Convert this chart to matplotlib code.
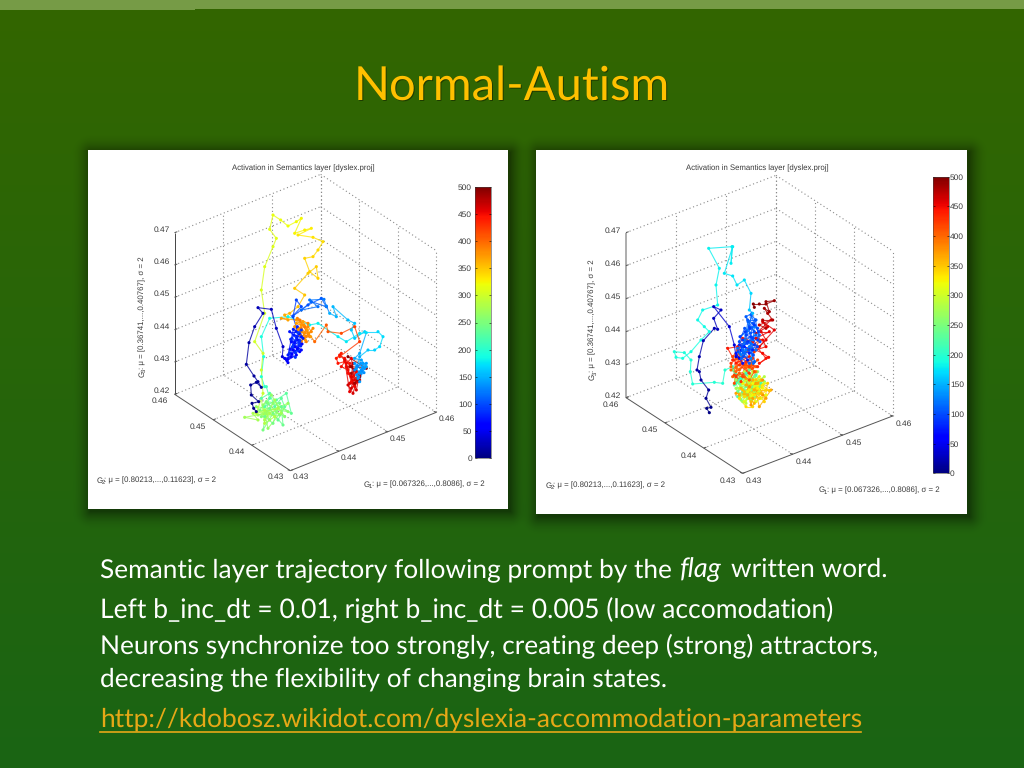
import numpy as np
import matplotlib
matplotlib.use("Agg")
import matplotlib.pyplot as plt
from matplotlib.cm import ScalarMappable
from matplotlib.collections import LineCollection
from matplotlib.colors import Normalize

plt.rcParams["font.family"] = ["Liberation Sans", "DejaVu Sans"]
plt.rcParams["text.hinting"] = "no_hinting"

# values, positions of the trajectories are in zoomed panel pixels (3x)
g1_ticks = [0.43, 0.44, 0.45, 0.46]
g2_ticks = [0.43, 0.44, 0.45, 0.46]
g3_ticks = [0.42, 0.43, 0.44, 0.45, 0.46, 0.47]
cbar_ticks = [0, 50, 100, 150, 200, 250, 300, 350, 400, 450, 500]

left_x = [505, 497, 492, 512, 490, 488, 505, 520, 510, 498, 475, 483, 500, 525, 510, 550, 565, 585, 583,
          600, 590, 610, 597, 625, 615, 635, 620, 640, 610, 630, 605, 625, 640, 618, 645, 628, 612, 635, 622, 605, 630, 640,
          598, 612, 628, 642, 606, 620, 634, 616, 600, 626, 638, 608, 622, 636, 614, 630,
          615, 625, 640, 615, 660, 700, 715, 670, 640, 690, 665, 708, 715,
          725, 745, 735, 780, 800, 790, 800, 830, 870, 885, 875, 860, 840, 815,
          808, 822, 812, 828, 800, 818, 835, 806, 825, 815,
          800, 830, 815, 805, 825, 810, 835, 820, 800, 815,
          835, 815, 775, 750, 690, 665, 600, 545, 520, 527, 520, 530,
          535, 545, 530, 565, 595, 610, 580, 585, 555, 525, 540, 575, 520, 555, 600, 505, 545, 535, 470, 510, 495, 530, 560, 530,
          520, 545, 560, 580, 590, 570, 545, 530, 555, 575, 535, 515, 565, 590, 550, 525, 540, 600, 510, 580, 560, 530, 545, 570,
          505, 525, 520, 525, 500, 530, 520, 530, 555, 565, 545, 555,
          578, 600, 625, 640, 620, 650, 670, 630, 675, 705, 690, 675, 650, 665, 690, 685, 660, 620, 650,
          630, 605, 590, 600, 580, 625, 640, 630, 650, 660, 670, 645, 655, 640, 665, 635, 650,
          625, 645, 658, 668, 636, 652, 620, 642, 662, 648, 632, 655, 675, 640, 660, 628,
          680, 715, 720, 760, 800, 815, 755,
          760, 745, 750, 770, 760, 780, 775, 790, 800, 785, 810, 795, 780, 815, 790, 800,
          755, 770, 785, 780, 795, 805, 790, 775, 800, 815, 785, 770, 795, 810, 805, 790,
          795, 785, 800, 790, 810, 800, 815, 790, 835, 780]
left_y = [785, 775, 760, 755, 735, 705, 697, 712, 695, 678, 643, 578, 530, 490, 473, 478, 535, 590, 620,
          638, 625, 620, 632, 615, 600, 605, 590, 600, 575, 570, 545, 545, 560, 555, 565, 530, 565, 580, 622, 610, 600, 540,
          628, 612, 596, 582, 598, 578, 552, 538, 615, 560, 588, 568, 608, 572, 590, 548,
          500, 450, 470, 498, 465, 445, 470, 455, 480, 470, 450, 448, 468,
          490, 500, 470, 510, 520, 540, 565, 545, 545, 560, 590, 600, 600, 620,
          648, 662, 680, 668, 660, 640, 640, 675, 650, 695,
          640, 655, 670, 655, 640, 685, 650, 630, 625, 610,
          548, 550, 575, 560, 520, 525, 500, 505, 560, 620, 680, 710,
          710, 745, 770, 750, 730, 790, 770, 825, 790, 840, 760, 795, 800, 760, 785, 770, 810, 790, 802, 810, 790, 780, 800, 820,
          745, 730, 770, 745, 770, 810, 775, 800, 820, 760, 755, 780, 785, 800, 735, 765, 835, 760, 795, 790, 750, 810, 790, 775,
          790, 730, 660, 610, 575, 490, 420, 350, 290, 265, 238, 195,
          210, 228, 215, 205, 250, 240, 235, 255, 262, 275, 300, 320, 325, 365, 385, 350, 370, 415, 435,
          470, 490, 495, 510, 505, 510, 525, 540, 550, 530, 545, 565, 575, 535, 560, 510, 530,
          520, 515, 540, 560, 555, 570, 530, 545, 550, 525, 535, 560, 535, 575, 520, 505,
          575, 525, 545, 550, 530, 575, 620,
          610, 625, 640, 635, 650, 660, 640, 625, 690, 700, 680, 730, 705, 690, 715, 660,
          615, 625, 640, 670, 680, 665, 695, 650, 710, 675, 725, 630, 700, 695, 720, 680,
          640, 650, 660, 670, 690, 700, 680, 650, 655, 620]
left_t = [2, 3, 4, 5, 6, 8, 9, 11, 12, 13, 15, 18, 20, 22, 24, 26, 29, 32, 36,
          50, 52, 54, 56, 58, 60, 62, 64, 66, 68, 70, 72, 74, 76, 78, 80, 82, 84, 85, 86, 87, 88, 89,
          60, 62, 64, 66, 68, 70, 72, 74, 76, 78, 80, 82, 84, 86, 88, 90,
          92, 95, 98, 100, 103, 106, 109, 112, 115, 118, 120, 122, 125,
          150, 152, 154, 156, 158, 160, 162, 165, 168, 170, 168, 166, 160, 150,
          130, 131, 132, 133, 134, 135, 136, 137, 138, 139,
          135, 135, 138, 138, 140, 140, 142, 142, 145, 148,
          172, 174, 176, 178, 180, 182, 185, 188, 190, 192, 194, 198,
          215, 220, 225, 228, 230, 235, 238, 240, 245, 248, 250, 252, 255, 258, 260, 265, 268, 270, 272, 275, 278, 280, 282, 285,
          225, 227, 230, 232, 235, 238, 240, 242, 245, 248, 250, 252, 255, 257, 260, 262, 265, 267, 270, 272, 275, 277, 278, 279,
          292, 296, 298, 300, 302, 304, 306, 308, 310, 312, 314, 315,
          318, 320, 322, 324, 326, 328, 330, 332, 334, 336, 338, 340, 342, 344, 345, 346, 347, 348, 350,
          355, 360, 365, 368, 370, 372, 374, 376, 378, 380, 382, 384, 385, 386, 387, 388, 390,
          370, 371, 372, 373, 374, 375, 376, 377, 378, 379, 380, 381, 382, 383, 384, 385,
          400, 405, 410, 415, 420, 425, 430,
          440, 442, 444, 446, 448, 450, 452, 454, 456, 458, 460, 462, 463, 464, 465, 468,
          445, 446, 447, 448, 449, 450, 451, 452, 453, 454, 455, 456, 457, 458, 459, 460,
          470, 474, 478, 480, 484, 486, 488, 490, 492, 495]

right_x = [520, 512, 525, 510, 518, 495, 490, 483, 490, 502, 535, 545, 533, 555, 533, 580, 595, 600, 610,
           600, 620, 635, 615, 640, 625, 650, 610, 635, 655, 620, 645, 665, 630, 655, 640, 665, 650, 635, 660, 645, 670, 625, 605, 650, 640, 660, 630, 615, 645, 655,
           612, 628, 642, 655, 668, 618, 634, 650, 664, 606, 622, 638, 652, 610, 626, 644, 658, 672, 630, 648, 616, 640, 656, 636, 620, 652, 644, 660, 628, 612,
           650, 640, 645, 625, 603, 590, 565, 590, 585, 588, 518, 550, 540, 545, 500, 485, 505, 520, 495, 465, 440, 420, 415, 445, 465, 463, 470, 535, 560, 567,
           590, 598, 610, 595, 625, 640, 605, 630, 655, 620, 645, 665, 600, 635, 615, 685, 650, 625, 610, 670, 640, 660, 630,
           600, 615, 630, 645, 660, 675, 605, 620, 635, 650, 665, 590, 610, 625, 640, 655, 670, 685, 595, 615, 630, 645, 660, 600, 620, 640, 655, 610, 630, 650,
           640, 655, 670, 685, 625, 645, 660, 675, 690, 635, 650, 665, 680, 620, 640, 655, 670, 610, 630, 650, 665, 685, 695, 645, 660, 625, 675, 640, 655, 615, 635, 650, 670, 705, 600, 690, 660, 645, 630, 680,
           650, 665, 640, 680, 655, 625, 670, 690, 640, 660, 700, 620, 645, 675, 610, 655, 630, 665, 650, 680, 640, 660, 630,
           585, 600, 615, 630, 645, 660, 590, 610, 625, 640, 655, 600, 620, 635, 650, 665, 595, 610, 590, 630, 605, 620, 640, 655, 670, 585, 600, 615, 630, 650,
           600, 585, 610, 630, 650, 620, 595, 640, 610, 665, 590,
           640, 600, 575, 605, 620, 650, 690, 670, 698, 680, 660, 690, 680, 660, 700, 675, 690, 670, 715, 680, 695, 660, 705,
           670, 690, 680, 710, 695, 685, 700, 690, 715, 690, 670, 652, 655]
right_y = [788, 775, 772, 745, 720, 690, 665, 660, 620, 572, 535, 538, 505, 480, 470, 530, 585, 620, 625,
           610, 640, 630, 600, 610, 590, 600, 585, 575, 585, 570, 560, 570, 555, 545, 530, 535, 520, 510, 510, 495, 555, 610, 595, 570, 590, 600, 600, 615, 625, 530,
           560, 545, 535, 525, 545, 590, 580, 565, 590, 605, 620, 600, 615, 575, 535, 550, 510, 575, 500, 490, 625, 640, 635, 515, 600, 640, 580, 555, 570, 610,
           490, 480, 430, 390, 405, 378, 370, 290, 340, 290, 295, 355, 405, 465, 480, 510, 530, 545, 570, 605, 625, 622, 605, 608, 630, 665, 702, 697, 700, 660,
           650, 670, 690, 705, 680, 660, 725, 710, 680, 700, 720, 665, 690, 745, 735, 680, 700, 665, 715, 690, 735, 710, 690,
           700, 685, 670, 690, 675, 700, 740, 725, 735, 710, 730, 660, 700, 720, 680, 740, 710, 695, 680, 750, 725, 750, 695, 715, 755, 700, 725, 670, 760, 665,
           695, 710, 725, 700, 755, 740, 755, 745, 735, 725, 735, 705, 715, 700, 680, 690, 680, 745, 770, 770, 730, 755, 700, 705, 715, 725, 690, 745, 760, 715, 735, 690, 770, 720, 730, 745, 700, 765, 685, 735,
           700, 715, 720, 705, 735, 740, 745, 720, 690, 690, 722, 720, 755, 730, 735, 720, 705, 700, 745, 690, 710, 665, 650,
           660, 650, 640, 655, 645, 650, 680, 670, 680, 690, 665, 625, 620, 600, 640, 630, 700, 610, 620, 570, 600, 640, 650, 605, 570, 640, 680, 695, 635, 625,
           665, 650, 660, 645, 655, 680, 675, 670, 645, 650, 630,
           620, 640, 595, 590, 565, 575, 625, 640, 622, 610, 600, 590, 570, 565, 545, 545, 570, 590, 540, 515, 530, 550, 510,
           525, 535, 510, 510, 490, 475, 485, 455, 452, 462, 462, 462, 472]
right_t = [2, 3, 4, 8, 11, 14, 16, 17, 19, 22, 25, 26, 28, 30, 32, 36, 40, 44, 48,
           70, 72, 74, 76, 78, 80, 82, 84, 86, 88, 90, 92, 94, 96, 98, 100, 102, 104, 106, 108, 110, 112, 114, 116, 118, 120, 122, 124, 126, 128, 130,
           90, 91, 92, 93, 94, 95, 96, 97, 98, 99, 100, 101, 102, 103, 104, 105, 106, 107, 108, 109, 110, 111, 112, 113, 114, 115, 116, 117, 118, 119,
           155, 162, 168, 172, 174, 175, 176, 177, 178, 179, 180, 181, 182, 183, 184, 185, 186, 187, 188, 189, 190, 191, 192, 193, 194, 195, 196, 197, 198, 199,
           205, 212, 220, 225, 230, 235, 240, 245, 250, 255, 260, 265, 270, 275, 280, 285, 288, 290, 292, 295, 297, 298, 300,
           205, 208, 211, 214, 217, 220, 223, 226, 229, 232, 235, 238, 241, 244, 247, 250, 253, 256, 259, 262, 265, 268, 271, 274, 277, 280, 283, 286, 289, 292,
           300, 302, 304, 306, 308, 310, 312, 314, 316, 318, 320, 322, 324, 326, 328, 330, 332, 334, 336, 338, 340, 342, 344, 346, 348, 350, 352, 354, 356, 358, 360, 362, 364, 366, 368, 370, 372, 374, 376, 378,
           320, 325, 328, 330, 335, 338, 340, 342, 345, 348, 350, 352, 355, 358, 360, 362, 365, 368, 370, 375, 378, 382, 385,
           400, 401, 402, 403, 404, 405, 406, 407, 408, 409, 410, 411, 412, 413, 414, 415, 416, 417, 418, 419, 420, 421, 422, 423, 424, 425, 426, 427, 428, 429,
           400, 403, 406, 410, 413, 416, 420, 424, 428, 432, 436,
           440, 441, 442, 443, 444, 445, 446, 447, 448, 449, 450, 451, 452, 453, 454, 455, 456, 457, 458, 459, 460, 462, 465,
           470, 473, 476, 478, 480, 483, 486, 488, 490, 492, 494, 496, 498]

g1_label = ": \u03bc = [0.067326,...,0.8086], \u03c3 = 2"
g2_label = ": \u03bc = [0.80213,...,0.11623], \u03c3 = 2"
g3_label = ": \u03bc = [0.36741,...,0.40767], \u03c3 = 2"
panel_title = "Activation in Semantics layer [dyslex.proj]"

bg_top = np.array([51, 102, 0]) / 255
bg_bottom = np.array([26, 100, 20]) / 255

fig = plt.figure(figsize=(10.24, 7.68), dpi=100)

# slide background with gradient, top strip and the soft shadows of the two pictures
h, w = 768, 1024
frac = np.linspace(0, 1, h)[:, None, None]
bg = np.tile(bg_top * (1 - frac) + bg_bottom * frac, (1, w, 1))
yy, xx = np.mgrid[0:h, 0:w]
for x0, y0, x1, y1 in [(88, 150, 508, 509), (536, 150, 967, 514)]:
    dx = np.maximum(np.maximum(x0 + 2 - xx, xx - x1 - 2), 0)
    dy = np.maximum(np.maximum(y0 + 2 - yy, yy - y1 - 2), 0)
    d = np.hypot(dx, dy)
    bg = bg * (1 - 0.42 * np.clip(1 - d / 20, 0, 1)[:, :, None] ** 2)
bg[:9, :] = np.array([118, 155, 70]) / 255
bg[9, :195] = np.array([118, 155, 70]) / 255

sl = fig.add_axes([0, 0, 1, 1])
sl.imshow(bg, extent=(0, w, h, 0), aspect="auto", interpolation="nearest")
sl.set_xlim(0, w)
sl.set_ylim(h, 0)
sl.axis("off")

# title with a small shadow
sl.text(512.8, 101, "Normal-Autism", color="#1a3300", alpha=0.8, fontsize=33.9, family="Lato", ha="center", va="baseline")
sl.text(511.5, 100, "Normal-Autism", color="#ffc000", fontsize=33.9, family="Lato", ha="center", va="baseline")

body = dict(color="white", family="Lato", va="baseline")
sl.text(100, 577, "Semantic layer trajectory following prompt by the", fontsize=18.95, **body)
sl.text(680, 577, "flag", style="italic", fontsize=19.5, **body)
sl.text(731, 577, "written word.", fontsize=18.95, **body)
sl.text(100, 618, "Left b_inc_dt = 0.01, right b_inc_dt = 0.005 (low accomodation)", fontsize=19.1, **body)
sl.text(100, 653, "Neurons synchronize too strongly, creating deep (strong) attractors,", fontsize=18.87, **body)
sl.text(100, 686, "decreasing the flexibility of changing brain states.", fontsize=18.86, **body)
sl.text(100, 727, "http://kdobosz.wikidot.com/dyslexia-accommodation-parameters", color="#e6a817",
        fontsize=18.99, family="Lato", va="baseline")
sl.plot([100, 861], [731.5, 731.5], color="#e6a817", lw=1.2)


def draw_panel(box, size, corners, z_top, xs, ys, ts, offs, title_pos, g1_pos, g2_pos, g3_pos, cbar_box, cbar_left,
               axis_col, axis_lw):
    x0, y0, x1, y1 = box
    ax = fig.add_axes([x0 / w, 1 - y1 / h, (x1 - x0) / w, (y1 - y0) / h])
    ax.set_xlim(0, size[0])
    ax.set_ylim(size[1], 0)
    ax.set_facecolor("white")
    ax.set_xticks([])
    ax.set_yticks([])
    for s in ax.spines.values():
        s.set_visible(False)

    left, bottom, right = corners

    def proj(g1, g2, g3):
        a = (g1 - 0.43) / 0.03
        b = (g2 - 0.43) / 0.03
        px = bottom[0] + a * (right[0] - bottom[0]) + b * (left[0] - bottom[0])
        py = bottom[1] + a * (right[1] - bottom[1]) + b * (left[1] - bottom[1]) - (g3 - 0.42) / 0.05 * z_top
        return px, py

    def seg(p, q, **kw):
        ax.plot([p[0], q[0]], [p[1], q[1]], solid_capstyle="butt", **kw)

    dots = dict(color="#8a8a8a", lw=0.8, ls=(0, (1, 2.4)))
    for g in g1_ticks[1:]:
        seg(proj(g, 0.43, 0.42), proj(g, 0.46, 0.42), **dots)
        seg(proj(g, 0.46, 0.42), proj(g, 0.46, 0.47), **dots)
    for g in g2_ticks[1:]:
        seg(proj(0.43, g, 0.42), proj(0.46, g, 0.42), **dots)
        seg(proj(0.46, g, 0.42), proj(0.46, g, 0.47), **dots)
    seg(proj(0.46, 0.43, 0.42), proj(0.46, 0.43, 0.47), **dots)
    for g in g3_ticks[1:]:
        seg(proj(0.43, 0.46, g), proj(0.46, 0.46, g), **dots)
        seg(proj(0.46, 0.46, g), proj(0.46, 0.43, g), **dots)

    solid = dict(color="#555555", lw=0.7)
    seg(proj(0.43, 0.46, 0.42), proj(0.43, 0.43, 0.42), **solid)
    seg(proj(0.43, 0.43, 0.42), proj(0.46, 0.43, 0.42), **solid)
    seg(proj(0.43, 0.46, 0.42), proj(0.43, 0.46, 0.47), color=axis_col, lw=axis_lw)

    tick_kw = dict(fontsize=6.0, color="#3a3a3a", ha="center", va="center")
    for g in g3_ticks:
        p = proj(0.43, 0.46, g)
        seg(p, (p[0] + 8, p[1] - 3), **solid)
        ax.text(p[0] + offs[0][0], p[1] + offs[0][1], f"{g:.2f}", **tick_kw)
    for g in g2_ticks:
        p = proj(0.43, g, 0.42)
        seg(p, (p[0] + 8, p[1] - 3), **solid)
        ax.text(p[0] + offs[1][0], p[1] + offs[1][1], f"{g:.2f}", **tick_kw)
    for g in g1_ticks:
        p = proj(g, 0.43, 0.42)
        seg(p, (p[0] - 8, p[1] - 3), **solid)
        ax.text(p[0] + offs[2][0], p[1] + offs[2][1], f"{g:.2f}", **tick_kw)

    lab = dict(fontsize=5.7, color="#3a3a3a")
    sub = dict(fontsize=4.2, color="#3a3a3a")
    ax.text(title_pos[0], title_pos[1], panel_title, ha="center", va="center", fontsize=5.6, color="#3a3a3a")
    # G with a small index, then the rest of the label
    for text, idx, (lx, ly) in [(g2_label, "2", g2_pos), (g1_label, "1", g1_pos)]:
        ax.text(lx, ly, "G", va="baseline", **lab)
        ax.text(lx + 15, ly + 5, idx, va="baseline", **sub)
        ax.text(lx + 24, ly, text, va="baseline", **lab)
    lx, ly = g3_pos
    ax.text(lx, ly, "G", rotation=90, ha="center", va="bottom", **lab)
    ax.text(lx + 7, ly - 15, "3", rotation=90, ha="center", va="bottom", **sub)
    ax.text(lx, ly - 24, g3_label, rotation=90, ha="center", va="bottom", **lab)

    # trajectory, blue part goes over the later red part like in the original
    norm = Normalize(0, 500)
    xs, ys, ts = np.array(xs), np.array(ys), np.array(ts)
    order = np.argsort(ts[:-1] < 160, kind="stable")
    pts = np.column_stack([xs, ys])
    segs = np.stack([pts[:-1], pts[1:]], axis=1)[order]
    ax.add_collection(LineCollection(segs, colors=plt.cm.jet(norm(ts[:-1][order])), linewidths=0.8, alpha=0.8, zorder=3))
    order = np.argsort(ts < 160, kind="stable")
    ax.scatter(xs[order], ys[order], c=ts[order], cmap="jet", norm=norm, s=5, linewidths=0, zorder=4)
    ax.set_xlim(0, size[0])
    ax.set_ylim(size[1], 0)

    cx0, cy0, cx1, cy1 = cbar_box
    px0 = x0 + cx0 * (x1 - x0) / size[0]
    px1 = x0 + cx1 * (x1 - x0) / size[0]
    py0 = y0 + cy0 * (y1 - y0) / size[1]
    py1 = y0 + cy1 * (y1 - y0) / size[1]
    cax = fig.add_axes([px0 / w, 1 - py1 / h, (px1 - px0) / w, (py1 - py0) / h])
    cb = fig.colorbar(ScalarMappable(norm=norm, cmap="jet"), cax=cax, ticks=cbar_ticks)
    cb.ax.tick_params(labelsize=6.0, length=1.5, width=0.4, direction="in", pad=2 if cbar_left else 0.5,
                      labelcolor="#3a3a3a", left=True, right=True)
    if cbar_left:
        cb.ax.yaxis.set_ticks_position("both")
        cb.ax.tick_params(labelleft=True, labelright=False)
    cb.outline.set_linewidth(0.4)
    cb.outline.set_edgecolor("#444444")


draw_panel(
    (88, 150, 508, 509), (1260, 1077),
    ((260, 733), (607, 962), (1045, 787)), 485,
    left_x, left_y, left_t,
    ((-40, -9), (-45, 20), (30, 20)),
    (647, 55), (827, 1010), (25, 998), (163, 680),
    (1160, 110, 1208, 925), True, "#444444", 0.7,
)
draw_panel(
    (536, 150, 967, 514), (1293, 1092),
    ((270, 743), (620, 970), (1070, 798)), 495,
    right_x, right_y, right_t,
    ((-41, -5), (-45, 22), (33, 24)),
    (665, 55), (848, 1026), (28, 1013), (170, 690),
    (1190, 80, 1240, 970), False, "#a0a0a0", 1.2,
)

plt.savefig("out.png", dpi=100)
plt.close()
